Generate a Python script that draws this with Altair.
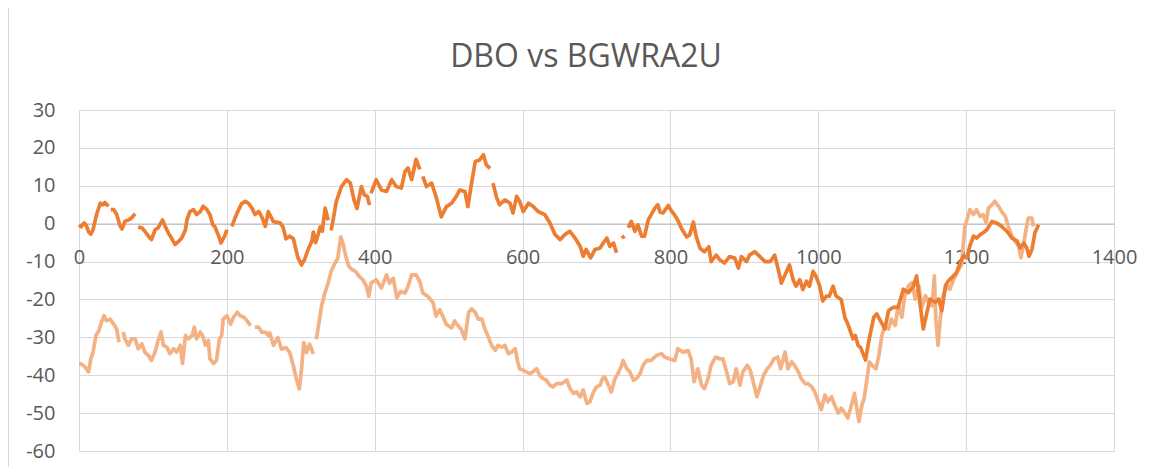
import altair as alt
import pandas as pd

TITLE = "DBO vs BGWRA2U"
x_ticks = [0, 200, 400, 600, 800, 1000, 1200, 1400]
y_ticks = [-60, -50, -40, -30, -20, -10, 0, 10, 20, 30]

# dark orange series (None marks a break in the line)
dark_x = [0, 3, 7, 10, 13, 16, 19, 22, 25, 29, 32, 35, 38, 40, 41, 43, 47, 51, 55, 58, 61, 62, 67, 71, 76, 78,
          80, 85, 89, 94, 98, 103, 107, 113, 116, 121, 125, 130, 135, 139, 144, 146, 150, 155, 159, 164, 168, 173,
          177, 181, 184, 189, 192, 197, 200, 203,
          207, 211, 216, 220, 225, 229, 234, 238, 243, 247, 252, 256, 263, 267, 272, 276, 280, 285, 290, 296, 301,
          305, 310, 315, 317, 320, 324, 326, 329, 333, 337, 339,
          341, 344, 348, 355, 362, 367, 372, 376, 382, 386, 390, 393, 394,
          395, 402, 409, 416, 423, 429, 436, 441, 445, 450, 456, 461, 463,
          465, 470, 477, 483, 490, 497, 504, 510, 515, 522, 526, 531, 536, 542, 547, 551, 556, 558,
          560, 565, 569, 576, 583, 587, 592, 596, 601, 608, 614, 621, 630, 637, 644, 651, 657, 664, 671, 678, 682,
          686, 692, 698, 705, 709, 714, 718, 723, 727, 730,
          734, 738, 740,
          743, 747, 752, 756, 761, 765, 770, 774, 779, 783, 786, 790, 797, 801, 806, 810, 815, 822, 826, 831, 835,
          840, 846, 852, 855, 862, 867, 873, 880, 887, 892, 896, 903, 907, 914, 921, 928, 935, 941, 946, 950, 955,
          961, 966, 970, 975, 979, 984, 988, 993, 997, 1002, 1006, 1011, 1015, 1020, 1024, 1031, 1036, 1040, 1047,
          1050, 1054, 1057, 1064, 1068, 1075, 1079, 1084, 1090, 1095, 1101, 1108, 1115, 1122, 1129, 1133, 1138,
          1142, 1147, 1151, 1158, 1163, 1167, 1172, 1176, 1183, 1187, 1192, 1196, 1201, 1205, 1210, 1214, 1219,
          1223, 1228, 1235, 1241, 1248, 1255, 1262, 1269, 1273, 1278, 1282, 1285, 1289, 1293, 1298]
dark_y = [-0.3, -0.8, 0.2, -0.5, -2.2, -2.8, -1.6, 1.0, 3.2, 5.4, 5.0, 5.6, 5.0, 4.6, None, 3.7, 3.7, 2.4, -0.3,
          -1.4, 0.0, 0.6, 1.0, 1.5, 2.6, None,
          -0.9, -1.1, -2.0, -3.3, -4.2, -1.6, -1.1, 1.0, -0.5, -2.5, -3.8, -5.5, -4.6, -3.8, -1.6, 1.0, 3.2, 3.7,
          2.4, 3.2, 4.6, 3.7, 2.4, -0.3, -0.9, -3.3, -5.1, -3.3, -1.6, None,
          -0.7, 1.5, 3.7, 5.3, 5.9, 5.4, 4.1, 2.4, 3.2, 1.9, -0.7, 3.2, 0.5, 0.4, 0.2, -0.9, -4.0, -3.3, -4.0,
          -8.9, -10.9, -9.5, -6.8, -4.6, -2.2, -5.0, -2.5, -0.9, -2.0, 4.1, 0.9, None,
          -1.8, 1.3, 5.8, 9.8, 11.6, 10.7, 6.3, 4.0, 9.8, 7.6, 7.2, 4.9, None,
          8.0, 11.6, 8.9, 8.5, 11.6, 9.8, 9.4, 13.8, 14.7, 11.6, 17.0, 14.3, None,
          12.5, 9.8, 10.7, 7.1, 1.8, 4.5, 5.4, 7.1, 8.9, 8.5, 4.5, 10.7, 16.4, 16.8, 18.2, 15.5, 14.6, None,
          10.7, 6.8, 5.0, 6.3, 5.4, 2.8, 7.2, 5.9, 3.2, 5.4, 4.6, 3.2, 2.4, 0.2, -2.9, -4.2, -2.9, -2.0, -3.8,
          -6.0, -8.6, -6.8, -9.0, -6.8, -6.4, -5.1, -3.8, -6.0, -5.1, -7.7, None,
          -3.8, -3.3, None,
          -1.1, 0.6, -2.0, -0.3, -3.3, -3.3, 1.0, 2.4, 4.1, 5.0, 3.0, 2.8, 4.8, 3.5, 2.2, 0.9, -1.3, -3.5, -3.0,
          0.4, -3.5, -6.5, -7.4, -6.1, -10.0, -8.3, -9.6, -10.4, -8.7, -9.1, -11.7, -8.7, -10.0, -8.3, -7.4, -8.7,
          -10.0, -10.0, -8.3, -12.2, -15.7, -13.5, -10.9, -14.8, -16.5, -14.8, -17.4, -15.2, -16.5, -12.6, -13.9,
          -16.5, -20.4, -19.1, -19.1, -16.5, -19.1, -20.0, -24.8, -26.5, -30.4, -29.5, -32.2, -32.6, -36.0, -31.3,
          -24.7, -23.8, -25.6, -27.8, -23.0, -22.1, -22.1, -17.3, -18.2, -16.4, -13.8, -21.7, -27.8, -23.4, -19.9,
          -20.8, -19.9, -23.0, -16.4, -15.1, -13.8, -12.9, -10.3, -8.6, -9.0, -5.9, -3.3, -3.8, -2.9, -2.4, -1.6,
          0.6, 0.2, -0.7, -2.0, -3.8, -4.6, -6.4, -5.1, -6.4, -8.6, -6.8, -2.4, -0.3]

# light orange series
light_x = [0, 3, 8, 13, 16, 19, 23, 27, 31, 34, 37, 42, 47, 51, 54, 57,
           60, 62, 67, 71, 76, 80, 85, 89, 94, 98, 103, 107, 111, 114, 119, 123, 128, 132, 137, 140, 144, 148, 153,
           156, 159, 164, 168, 171, 175, 177, 182, 186, 190, 193, 195, 200, 205, 209, 214, 218, 223, 227, 232, 235,
           238, 243, 247, 252, 256, 258, 263, 269, 274, 280, 285, 290, 294, 298, 301, 304, 308, 312, 317, 319,
           321, 325, 328, 332, 337, 341, 346, 350, 354, 357, 361, 365, 370, 374, 379, 384, 389, 392, 395, 402, 409,
           416, 420, 425, 430, 435, 441, 445, 450, 456, 461, 465, 472, 479, 483, 488, 492, 497, 504, 508, 513, 517,
           522, 527, 531, 536, 540, 545, 549, 554, 558, 563, 567, 572, 576, 581, 585, 590, 593, 596, 601, 605, 610,
           614, 619, 623, 628, 632, 637, 641, 646, 653, 660, 664, 669, 673, 678, 682, 687, 691, 696, 700, 705, 708,
           711, 716, 720, 725, 729, 734, 736, 741, 745, 750, 754, 759, 763, 768, 774, 781, 788, 792, 799, 806, 810,
           817, 824, 828, 832, 837, 842, 846, 851, 855, 861, 867, 871, 876, 880, 885, 889, 894, 898, 904, 908, 913,
           917, 922, 926, 931, 935, 940, 945, 949, 955, 959, 964, 968, 973, 977, 982, 986, 991, 995, 1000, 1004,
           1009, 1013, 1018, 1022, 1027, 1031, 1036, 1040, 1045, 1049, 1052, 1055, 1059, 1062, 1066, 1069, 1073,
           1078, 1082, 1086, 1090, 1095, 1099, 1104, 1108, 1113, 1117, 1122, 1127, 1131, 1136, 1140, 1145, 1149,
           1154, 1157, 1159, 1162, 1165, 1169, 1174, 1178, 1183, 1190, 1194, 1198, 1201, 1205, 1210, 1214, 1219,
           1223, 1227, 1230, 1235, 1239, 1244, 1248, 1253, 1257, 1262, 1266, 1271, 1274, 1278, 1281, 1284, 1289,
           1291]
light_y = [-37.0, -37.0, -37.8, -39.1, -35.6, -33.9, -29.5, -28.2, -25.6, -24.3, -25.6, -25.2, -26.5, -27.8,
           -31.3, None,
           -28.6, -30.4, -32.1, -30.4, -30.4, -33.0, -31.7, -33.9, -34.8, -36.1, -33.9, -30.8, -28.6, -32.1, -32.6,
           -34.3, -33.0, -33.9, -32.1, -36.9, -29.5, -30.4, -29.5, -27.3, -30.4, -28.6, -29.9, -32.1, -30.8, -35.6,
           -36.9, -36.1, -30.4, -29.5, -25.2, -24.3, -26.5, -24.7, -23.4, -24.3, -24.7, -25.6, -26.9, None,
           -27.3, -27.3, -28.6, -28.6, -29.5, -28.8, -32.1, -30.1, -33.1, -32.7, -34.0, -37.5, -41.0, -43.6, -38.4,
           -31.4, -34.0, -31.8, -34.4, None,
           -30.5, -25.7, -21.8, -18.7, -15.7, -12.6, -10.5, -9.2, -3.5, -5.2, -8.7, -11.3, -12.2, -12.6, -13.9,
           -14.8, -16.6, -19.2, -15.7, -14.8, -17.0, -13.5, -15.7, -14.4, -19.6, -17.9, -18.3, -16.6, -13.5, -13.5,
           -15.3, -18.3, -19.2, -20.9, -24.4, -22.7, -24.4, -26.6, -27.5, -25.7, -27.0, -27.9, -30.4, -23.4, -22.5,
           -23.4, -25.2, -25.2, -27.8, -30.0, -32.1, -33.4, -32.1, -32.6, -32.1, -34.3, -33.9, -33.0, -36.1, -38.3,
           -38.7, -39.1, -39.6, -39.1, -38.3, -40.0, -40.9, -41.3, -42.6, -43.1, -42.2, -42.2, -41.3, -43.5, -44.8,
           -44.4, -45.7, -43.9, -47.4, -47.0, -44.4, -43.1, -42.6, -40.9, -40.4, -42.6, -44.4, -40.9, -39.6, -37.4,
           -36.1, -38.3, -39.1, -41.3, -40.9, -39.6, -37.4, -36.1, -36.1, -34.8, -34.3, -35.2, -35.7, -36.1, -33.0,
           -33.9, -33.5, -35.7, -41.7, -38.3, -42.6, -43.5, -40.9, -37.4, -35.2, -35.7, -35.7, -39.1, -42.2, -41.7,
           -38.3, -42.6, -39.1, -37.4, -38.7, -42.6, -45.7, -42.6, -40.0, -38.3, -37.4, -35.7, -35.2, -38.3, -33.9,
           -38.3, -36.5, -37.4, -39.1, -40.9, -42.2, -42.2, -43.0, -44.3, -47.0, -49.1, -45.2, -47.0, -45.7, -47.8,
           -50.0, -48.7, -50.0, -51.3, -47.8, -44.8, -48.7, -52.2, -47.9, -46.1, -40.9, -36.5, -37.4, -38.3, -34.8,
           -29.5, -26.9, -27.8, -25.2, -26.9, -21.7, -24.7, -19.0, -16.4, -15.5, -19.9, -16.4, -22.1, -19.0, -20.8,
           -21.7, -13.8, -25.2, -32.1, -25.2, -19.0, -16.4, -17.3, -14.7, -12.1, -10.7, -1.1, 1.0, 3.7, 2.4, 3.7,
           1.9, 2.4, 0.2, 4.1, 5.0, 5.9, 4.5, 3.2, 1.9, -0.7, -3.3, -4.6, -5.9, -9.0, -5.1, -1.6, 1.5, 1.5, -0.7]

DARK = "#ED7D31"
LIGHT = "#F4B183"


def build(xs, ys, name):
    rows, seg = [], 0
    for xv, yv in zip(xs, ys):
        if yv is None:
            seg += 1
            continue
        rows.append({"x": xv, "y": yv, "seg": f"{name}-{seg}", "series": name})
    return pd.DataFrame(rows)


df_dark = build(dark_x, dark_y, "dark")
df_light = build(light_x, light_y, "light")

W, H = 1035, 341
y_zero_px = H * 30 / 90

x_enc = alt.X(
    "x:Q",
    scale=alt.Scale(domain=[0, 1400], nice=False, zero=False),
    axis=alt.Axis(
        values=x_ticks, orient="bottom", offset=y_zero_px - H, grid=True,
        gridColor="#D9D9D9", gridWidth=1, domain=True, domainColor="#BFBFBF",
        domainWidth=1.3, ticks=False, tickSize=0, labelPadding=24,
        labelFont="Open Sans", labelFontSize=20, labelColor="#595959",
        labelFlush=False, labelOverlap=False, labelExpr="'' + datum.value",
        title=None,
    ),
)
y_enc = alt.Y(
    "y:Q",
    scale=alt.Scale(domain=[-60, 30], nice=False, zero=False),
    axis=alt.Axis(
        values=y_ticks, grid=True, gridColor="#D9D9D9", gridWidth=1,
        domain=False, ticks=False, tickSize=0, labelPadding=24,
        labelFont="Open Sans", labelFontSize=20, labelColor="#595959",
        labelExpr="'' + datum.value", title=None,
    ),
)

light_line = alt.Chart(df_light).mark_line(
    color=LIGHT, strokeWidth=3.7, strokeJoin="round"
).encode(x=x_enc, y=y_enc, detail="seg:N")

dark_line = alt.Chart(df_dark).mark_line(
    color=DARK, strokeWidth=3.7, strokeJoin="round"
).encode(x=x_enc, y=y_enc, detail="seg:N")

one_row = pd.DataFrame({"label": [TITLE]})

frame = alt.Chart(one_row).mark_rule(
    color="#D9D9D9", strokeWidth=1
).encode(x=alt.value(-70.5), y=alt.value(-102), y2=alt.value(357))

title = alt.Chart(one_row).mark_text(
    font="Open Sans", fontSize=32, color="#595959", align="center",
    baseline="alphabetic"
).encode(text="label:N", x=alt.value(507), y=alt.value(-43))

chart = alt.layer(light_line, dark_line, frame, title).properties(
    width=W,
    height=H,
    autosize=alt.AutoSizeParams(type="none"),
    padding={"left": 71, "top": 102, "right": 40, "bottom": 16},
).configure_view(stroke=None).configure(background="white")

chart.save("out.html", embed_options={"renderer": "svg", "actions": False})
